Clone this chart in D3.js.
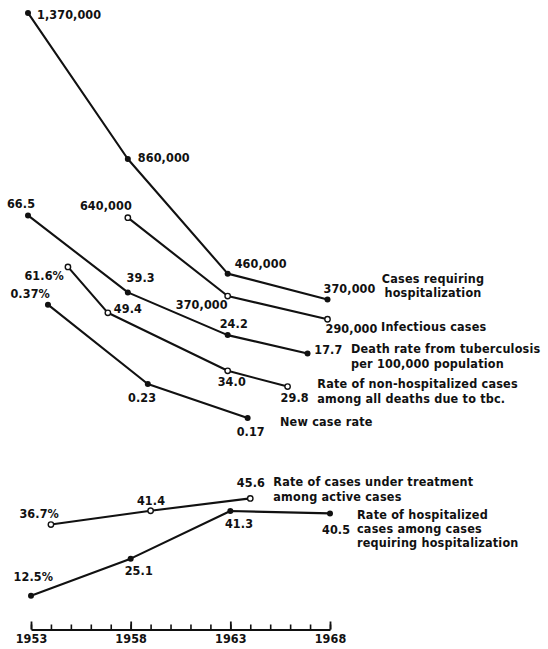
<!DOCTYPE html>
<html>
<head>
<meta charset="utf-8">
<script src="https://cdn.jsdelivr.net/npm/d3@7"></script>
<style>
  body { margin: 0; background: #fff; }
  svg { display: block; }
  text { font-family: "DejaVu Sans Condensed", "DejaVu Sans", sans-serif; font-weight: bold; fill: #111; }
  .num { font-size: 12.5px; letter-spacing: 0.1px; }
  .legend { font-size: 12.5px; letter-spacing: 0.2px; }
</style>
</head>
<body>
<div id="chart"></div>
<script>
// ---- data ----
let casesYears = [1953, 1958, 1963, 1968];
let casesValues = [1370000, 860000, 460000, 370000];

let infectiousYears = [1958, 1963, 1968];
let infectiousValues = [640000, 370000, 290000];

let deathYears = [1953, 1958, 1963, 1967];
let deathValues = [66.5, 39.3, 24.2, 17.7];

let nonHospYears = [1955, 1957, 1963, 1966];
let nonHospValues = [61.6, 49.4, 34.0, 29.8];

let newCaseYears = [1954, 1959, 1964];
let newCaseValues = [0.37, 0.23, 0.17];

let treatYears = [1954, 1959, 1964];
let treatValues = [36.7, 41.4, 45.6];

let hospYears = [1953, 1958, 1963, 1968];
let hospValues = [12.5, 25.1, 41.3, 40.5];

let tickYears = [1953, 1958, 1963, 1968];

let casesLegend = ['Cases requiring', 'hospitalization'];
let infectiousLegend = ['Infectious cases'];
let deathLegend = ['Death rate from tuberculosis', 'per 100,000 population'];
let nonHospLegend = ['Rate of non-hospitalized cases', 'among all deaths due to tbc.'];
let newCaseLegend = ['New case rate'];
let treatLegend = ['Rate of cases under treatment', 'among active cases'];
let hospLegend = ['Rate of hospitalized', 'cases among cases', 'requiring hospitalization'];

// ---- layout ----
let width = 548, height = 649, axisY = 629.5;

let xTop = d3.scaleLinear().domain([1953, 1968]).range([28, 327.5]);
let xBottom = d3.scaleLinear().domain([1953, 1968]).range([31, 330]);

// every series has its own vertical scale in the original
let yCases = d3.scaleLinear().domain([0, 1e6]).range([405.45, 118.9]);
let yInfectious = d3.scaleLinear().domain([0, 1e6]).range([403.45, 113.15]);
let yDeath = d3.scaleLinear().domain([0, 100]).range([403.63, 120.55]);
let yNonHosp = d3.scaleLinear().domain([0, 100]).range([498.76, 122.36]);
let yNewCase = d3.scaleLinear().domain([0, 1]).range([514.2, -52.1]);
let yLower = d3.scaleLinear().domain([0, 100]).range([632.45, 338.45]);

// value label offsets from their point: [dx, dy, anchor]
let casesLabelPos = [[9, 5.7, 'start'], [10, 2.6, 'start'], [7, -6, 'start'], [-4, -6.5, 'start']];
let infectiousLabelPos = [[4, -8, 'end'], [0, 13, 'end'], [-2, 14, 'start']];
let deathLabelPos = [[-7, -7.5, 'middle'], [-1.3, -10.5, 'start'], [-8, -7.2, 'start'], [6.7, 0.4, 'start']];
let nonHospLabelPos = [[-4, 13, 'end'], [6, 0, 'start'], [-10, 15.5, 'start'], [-7, 15, 'start']];
let newCaseLabelPos = [[2, -6.8, 'end'], [-19.8, 18, 'start'], [-11, 18.4, 'start']];
let treatLabelPos = [[8, -6.7, 'end'], [0.4, -5.4, 'middle'], [14.7, -11.8, 'end']];
let hospLabelPos = [[2.3, -14.4, 'middle'], [-6, 16, 'start'], [-5.4, 16.9, 'start'], [-8, 20.2, 'start']];

// legend placement: [x, first baseline, line step, anchor]
let casesLegendPos = [433, 283, 14.2, 'middle'];
let infectiousLegendPos = [381, 330.5, 0, 'start'];
let deathLegendPos = [351, 353.4, 14.9, 'start'];
let nonHospLegendPos = [317.3, 388.3, 14.3, 'start'];
let newCaseLegendPos = [280, 425.5, 0, 'start'];
let treatLegendPos = [273.3, 486.3, 14.2, 'start'];
let hospLegendPos = [357, 518.6, 14.4, 'start'];

let pctFirst = (f) => (v, i) => f(v) + (i === 0 ? '%' : '');

let series = [
  {years: casesYears, values: casesValues, x: xTop, y: yCases, open: false,
    fmt: d3.format(','), labels: casesLabelPos, legend: casesLegend, legendPos: casesLegendPos},
  {years: infectiousYears, values: infectiousValues, x: xTop, y: yInfectious, open: true,
    fmt: d3.format(','), labels: infectiousLabelPos, legend: infectiousLegend, legendPos: infectiousLegendPos},
  {years: deathYears, values: deathValues, x: xTop, y: yDeath, open: false,
    fmt: d3.format('.1f'), labels: deathLabelPos, legend: deathLegend, legendPos: deathLegendPos},
  {years: nonHospYears, values: nonHospValues, x: xTop, y: yNonHosp, open: true,
    fmt: pctFirst(d3.format('.1f')), labels: nonHospLabelPos, legend: nonHospLegend, legendPos: nonHospLegendPos},
  {years: newCaseYears, values: newCaseValues, x: xTop, y: yNewCase, open: false,
    fmt: pctFirst(d3.format('.2f')), labels: newCaseLabelPos, legend: newCaseLegend, legendPos: newCaseLegendPos},
  {years: treatYears, values: treatValues, x: xBottom, y: yLower, open: true,
    fmt: pctFirst(d3.format('.1f')), labels: treatLabelPos, legend: treatLegend, legendPos: treatLegendPos},
  {years: hospYears, values: hospValues, x: xBottom, y: yLower, open: false,
    fmt: pctFirst(d3.format('.1f')), labels: hospLabelPos, legend: hospLegend, legendPos: hospLegendPos},
];

let svg = d3.select('#chart').append('svg')
  .attr('width', width)
  .attr('height', height);

svg.append('rect').attr('width', width).attr('height', height).attr('fill', '#fff');

series.forEach((s) => {
  let pts = s.years.map((yr, i) => ({year: yr, value: s.values[i], i: i}));
  let line = d3.line()
    .x((d) => s.x(d.year))
    .y((d) => s.y(d.value));

  let g = svg.append('g');

  g.append('path')
    .datum(pts)
    .attr('d', line)
    .attr('fill', 'none')
    .attr('stroke', '#111')
    .attr('stroke-width', 2.1)
    .attr('stroke-linejoin', 'round');

  g.selectAll('circle')
    .data(pts)
    .enter()
    .append('circle')
    .attr('cx', (d) => s.x(d.year))
    .attr('cy', (d) => s.y(d.value))
    .attr('r', s.open ? 2.7 : 3)
    .attr('fill', s.open ? '#fff' : '#111')
    .attr('stroke', '#111')
    .attr('stroke-width', s.open ? 1.4 : 0);

  g.selectAll('text.num')
    .data(pts)
    .enter()
    .append('text')
    .attr('class', 'num')
    .attr('x', (d) => s.x(d.year) + s.labels[d.i][0])
    .attr('y', (d) => s.y(d.value) + s.labels[d.i][1])
    .attr('text-anchor', (d) => s.labels[d.i][2])
    .text((d) => s.fmt(d.value, d.i));

  let lp = s.legendPos;
  g.selectAll('text.legend')
    .data(s.legend)
    .enter()
    .append('text')
    .attr('class', 'legend')
    .attr('x', lp[0])
    .attr('y', (d, i) => lp[1] + i * lp[2])
    .attr('text-anchor', lp[3])
    .text((d) => d);
});

// year axis: minor ticks every year, taller ticks every five
let axisG = svg.append('g').attr('transform', 'translate(0,' + axisY + ')');

axisG.append('g')
  .call(d3.axisTop(xBottom).tickValues(d3.range(1953, 1969)).tickSize(5).tickSizeOuter(0).tickFormat(''))
  .call((a) => a.select('.domain').attr('stroke', '#111').attr('stroke-width', 2))
  .call((a) => a.selectAll('.tick line').attr('stroke', '#111').attr('stroke-width', 1.6));

axisG.append('g')
  .call(d3.axisTop(xBottom).tickValues(tickYears).tickSize(8).tickSizeOuter(0).tickFormat(''))
  .call((a) => a.select('.domain').remove())
  .call((a) => a.selectAll('.tick line').attr('stroke', '#111').attr('stroke-width', 1.8));

axisG.append('g')
  .call(d3.axisBottom(xBottom).tickValues(tickYears).tickSize(0).tickPadding(5).tickFormat(d3.format('d')))
  .call((a) => a.select('.domain').remove())
  .call((a) => a.selectAll('.tick text')
    .attr('class', 'num')
    .attr('font-family', null)
    .attr('font-size', null)
    .attr('fill', '#111'))
  .attr('font-family', null)
  .attr('font-size', null);
</script>
</body>
</html>
